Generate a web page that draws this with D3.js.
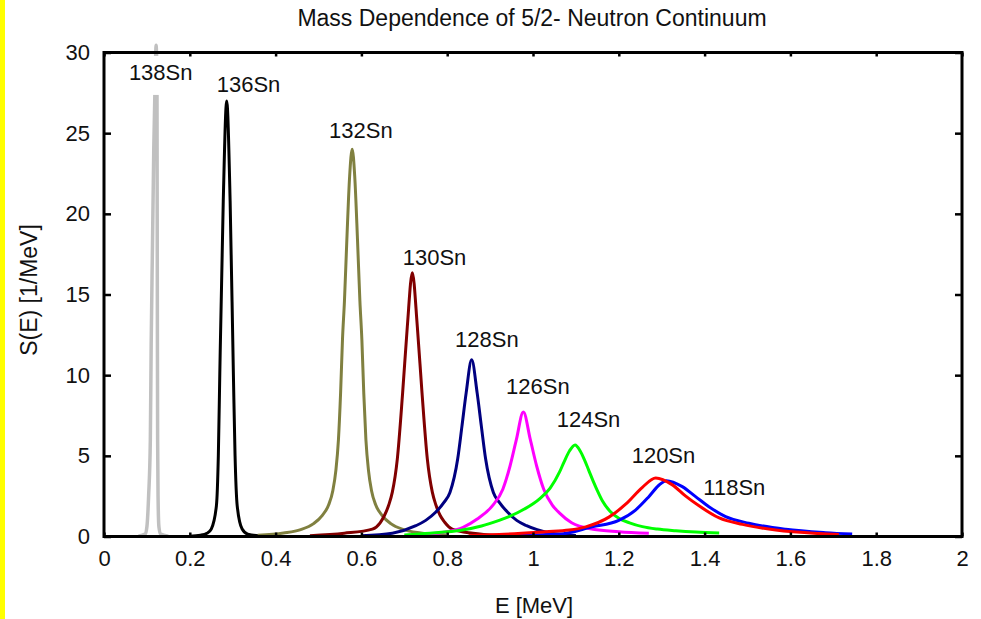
<!DOCTYPE html>
<html>
<head>
<meta charset="utf-8">
<script src="https://cdn.jsdelivr.net/npm/d3@7/dist/d3.min.js"></script>
<style>
  html, body { margin: 0; padding: 0; background: #fff; }
  svg text { font-family: "Liberation Sans", Arial, sans-serif; fill: #111; }
</style>
</head>
<body>
<svg id="chart" width="981" height="619"></svg>
<script>
// Strength functions S(E) of the 5/2- neutron continuum, one curve per Sn isotope.
const isotopes = ["138Sn", "136Sn", "132Sn", "130Sn", "128Sn", "126Sn", "124Sn", "118Sn", "120Sn"];

const energy138 = [0.08, 0.096, 0.100, 0.104, 0.108, 0.110, 0.113, 0.116, 0.119, 0.1215, 0.1235, 0.124, 0.1245, 0.125, 0.126, 0.128, 0.132, 0.15];
const strength138 = [0.02, 0.15, 0.6, 2.5, 6, 12, 18, 24, 28, 30.45, 28, 20, 12, 6, 2.5, 0.6, 0.15, 0.02];

const energy136 = [0.20, 0.225, 0.24, 0.250, 0.262, 0.2665, 0.270, 0.278, 0.286, 0.294, 0.3015, 0.3055, 0.3105, 0.322, 0.335, 0.36, 0.40];
const strength136 = [0.02, 0.08, 0.2, 0.46, 1.9, 5.0, 10.2, 20.8, 27.0, 20.8, 10.2, 5.0, 1.9, 0.46, 0.15, 0.05, 0.02];

const energy132 = [0.3585, 0.4185, 0.4585, 0.4885, 0.5085, 0.5235, 0.5335, 0.5405, 0.5465, 0.5515, 0.5559, 0.5605, 0.5661, 0.5725, 0.5785,
                   0.5845, 0.5909, 0.5965, 0.6011, 0.6055, 0.6105, 0.6165, 0.6235, 0.6335, 0.6485, 0.6685, 0.6985, 0.7385, 0.7985];
const strength132 = [0.07, 0.22, 0.43, 0.8, 1.3, 1.95, 2.85, 4.1, 6.0, 8.9, 12.2, 14.6, 18.4, 22.3, 24.0,
                     22.3, 18.4, 14.6, 12.2, 8.9, 6.0, 4.1, 2.85, 1.95, 1.3, 0.8, 0.43, 0.22, 0.07];

const energy130 = [0.48, 0.56, 0.6257, 0.6437, 0.6537, 0.6637, 0.6721, 0.6837, 0.6961, 0.707, 0.7187, 0.7304, 0.7413, 0.7537, 0.7653, 0.7737, 0.7837, 0.7937, 0.8117, 0.86, 0.92];
const strength130 = [0.05, 0.2, 0.46, 0.85, 1.3, 1.95, 2.75, 4.8, 8.9, 13.0, 16.35, 13.0, 8.9, 4.8, 2.75, 1.95, 1.3, 0.9, 0.46, 0.2, 0.07];

const energy128 = [0.60, 0.672, 0.727, 0.750, 0.773, 0.792, 0.8064, 0.8244, 0.8344, 0.8442, 0.857, 0.8698, 0.8796, 0.8896, 0.9076, 0.922, 0.941, 0.962, 0.985, 1.04, 1.10];
const strength128 = [0.04, 0.2, 0.67, 1.0, 1.5, 2.1, 2.73, 4.8, 6.84, 8.9, 10.95, 8.9, 6.84, 4.8, 2.73, 2.1, 1.5, 1.0, 0.67, 0.22, 0.06];

const energy126 = [0.72, 0.80, 0.837, 0.870, 0.9052, 0.9297, 0.9465, 0.9612, 0.9775, 0.9938, 1.0085, 1.025, 1.045, 1.062, 1.09, 1.14, 1.20, 1.27];
const strength126 = [0.1, 0.3, 0.57, 1.08, 1.9, 2.93, 4.37, 6.0, 7.72, 6.0, 4.37, 2.93, 1.95, 1.45, 0.85, 0.45, 0.3, 0.2];

const energy124 = [0.70, 0.76, 0.835, 0.88, 0.921, 0.944, 0.98, 1.016, 1.04, 1.062, 1.072, 1.085, 1.098, 1.11, 1.12, 1.13, 1.14, 1.15, 1.162, 1.18, 1.20, 1.225, 1.255, 1.29, 1.333, 1.38, 1.434];
const strength124 = [0.1, 0.2, 0.4, 0.65, 1.0, 1.23, 1.7, 2.35, 3.0, 4.0, 4.6, 5.3, 5.67, 5.3, 4.75, 4.1, 3.45, 2.85, 2.2, 1.55, 1.13, 0.85, 0.61, 0.46, 0.36, 0.28, 0.22];

const energy120 = [0.85, 0.921, 1.03, 1.084, 1.123, 1.177, 1.216, 1.255, 1.286, 1.325, 1.356, 1.387, 1.434, 1.488, 1.566, 1.667, 1.713];
const strength120 = [0.05, 0.12, 0.3, 0.4, 0.6, 1.2, 2.0, 3.05, 3.63, 3.2, 2.5, 1.9, 1.15, 0.75, 0.4, 0.18, 0.12];

const energy118 = [0.90, 1.0, 1.061, 1.138, 1.20, 1.239, 1.270, 1.294, 1.311, 1.348, 1.379, 1.410, 1.449, 1.503, 1.589, 1.682, 1.744];
const strength118 = [0.04, 0.1, 0.15, 0.6, 1.0, 1.64, 2.47, 3.19, 3.46, 3.09, 2.47, 1.85, 1.23, 0.82, 0.45, 0.24, 0.15];

// Label anchors (energy, strength) where each isotope name starts.
const labelEnergy = [0.058, 0.2627, 0.5245, 0.6963, 0.8182, 0.9371, 1.0553, 1.397, 1.230];
const labelStrength = [28.30, 27.58, 24.70, 16.83, 11.76, 8.83, 6.81, 2.57, 4.54];

const xTicks = [0, 0.2, 0.4, 0.6, 0.8, 1, 1.2, 1.4, 1.6, 1.8, 2];
const yTicks = [0, 5, 10, 15, 20, 25, 30];

const series = {
  "138Sn": [energy138, strength138],
  "136Sn": [energy136, strength136],
  "132Sn": [energy132, strength132],
  "130Sn": [energy130, strength130],
  "128Sn": [energy128, strength128],
  "126Sn": [energy126, strength126],
  "124Sn": [energy124, strength124],
  "118Sn": [energy118, strength118],
  "120Sn": [energy120, strength120]
};

const colors = {
  "138Sn": "#c0c0c0", "136Sn": "#000000", "132Sn": "#808040", "130Sn": "#800000",
  "128Sn": "#000080", "126Sn": "#ff00ff", "124Sn": "#00ff00", "118Sn": "#0000ff", "120Sn": "#ff0000"
};

const svg = d3.select("#chart");
const W = 981, H = 619;
const plotLeft = 104, plotRight = 962, plotTop = 52.5, plotBottom = 536.5;

svg.append("rect").attr("width", W).attr("height", H).attr("fill", "#fff");
// yellow strip at the left edge
svg.append("rect").attr("x", 0).attr("y", 0).attr("width", 5).attr("height", H).attr("fill", "#ffff00");

const x = d3.scaleLinear().domain([0, 2]).range([plotLeft, plotRight]);
const y = d3.scaleLinear().domain([0, 30]).range([plotBottom, plotTop]);

const line = d3.line()
  .x(d => x(d[0]))
  .y(d => y(d[1]))
  .curve(d3.curveMonotoneX);

const curves = svg.append("g");
isotopes.forEach(name => {
  const [es, ss] = series[name];
  const pts = es.map((e, i) => [e, ss[i]]);
  curves.append("path")
    .datum(pts)
    .attr("d", line)
    .attr("fill", "none")
    .attr("stroke", colors[name])
    .attr("stroke-width", name === "138Sn" ? 3.5 : 3)
    .attr("stroke-linejoin", "round");
});

// isotope labels
const labels = svg.append("g");
isotopes.forEach((name, i) => {
  const t = labels.append("text")
    .attr("x", x(labelEnergy[i]))
    .attr("y", y(labelStrength[i]))
    .attr("font-size", 22)
    .text(name);
  if (name === "138Sn") {
    const bb = t.node().getBBox();
    labels.insert("rect", "text")
      .attr("x", bb.x - 4).attr("y", bb.y - 4)
      .attr("width", bb.width + 8).attr("height", bb.height + 14)
      .attr("fill", "#fff");
  }
});

// frame with inward ticks on all four sides
const axes = svg.append("g");
axes.append("g")
  .attr("transform", `translate(0,${plotBottom})`)
  .call(d3.axisBottom(x).tickValues(xTicks).tickSize(-4).tickPadding(14)
    .tickFormat(d => d3.format("")(d)));
axes.append("g")
  .attr("transform", `translate(0,${plotTop})`)
  .call(d3.axisTop(x).tickValues(xTicks).tickSize(-4).tickFormat(""));
axes.append("g")
  .attr("transform", `translate(${plotLeft},0)`)
  .call(d3.axisLeft(y).tickValues(yTicks).tickSize(-7).tickPadding(14));
axes.append("g")
  .attr("transform", `translate(${plotRight},0)`)
  .call(d3.axisRight(y).tickValues(yTicks).tickSize(-7).tickFormat(""));

axes.selectAll(".domain").remove();
axes.selectAll(".tick line").attr("stroke", "#000").attr("stroke-width", 2.5);
axes.selectAll(".tick text").attr("font-size", 22).attr("font-family", "Liberation Sans, Arial, sans-serif").attr("fill", "#111");

axes.append("rect")
  .attr("x", plotLeft).attr("y", plotTop)
  .attr("width", plotRight - plotLeft).attr("height", plotBottom - plotTop)
  .attr("fill", "none").attr("stroke", "#000").attr("stroke-width", 3);

// titles
svg.append("text")
  .attr("x", 532).attr("y", 26)
  .attr("text-anchor", "middle").attr("font-size", 23)
  .text("Mass Dependence of 5/2- Neutron Continuum");
svg.append("text")
  .attr("x", 534).attr("y", 613)
  .attr("text-anchor", "middle").attr("font-size", 22)
  .text("E [MeV]");
svg.append("text")
  .attr("transform", "translate(37,290) rotate(-90)")
  .attr("text-anchor", "middle").attr("font-size", 23)
  .text("S(E) [1/MeV]");
</script>
</body>
</html>
